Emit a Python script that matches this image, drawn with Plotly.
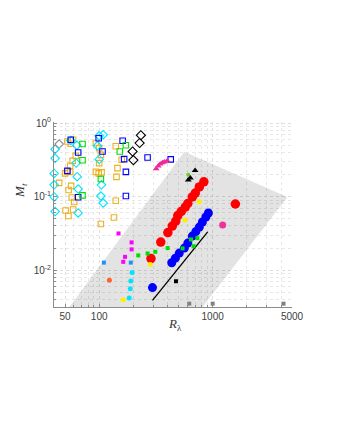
import plotly.graph_objects as go

# ---- data (R_lambda, M_t) ----
red_R = [286, 349, 403, 441, 473, 493, 529, 574, 604, 662, 703, 763, 836, 1585]
red_M = [0.0144, 0.0241, 0.0325, 0.0398, 0.0466, 0.0554, 0.0629, 0.0723, 0.0807, 0.099, 0.112, 0.1355, 0.159, 0.0795]

blue_R = [295, 436, 469, 508, 563, 604, 662, 711, 763, 812, 871, 917]
blue_M = [0.0058, 0.01265, 0.0146, 0.0171, 0.0200, 0.0234, 0.0291, 0.0335, 0.0386, 0.0452, 0.0529, 0.0600]

yellow_R = [763, 570, 282, 163]
yellow_M = [0.0855, 0.0481, 0.01197, 0.00398]

cyan_R = [195, 190, 188, 184]
cyan_M = [0.0093, 0.00714, 0.00562, 0.00419]

orange_dot_R = [123]
orange_dot_M = [0.0073]

pink_dot_R = [1225]
pink_dot_M = [0.0411]

magenta_sq_R = [148, 193, 193, 169, 163]
magenta_sq_M = [0.0316, 0.0239, 0.0192, 0.0152, 0.0130]

azure_sq_R = [110, 190]
azure_sq_M = [0.0127, 0.0127]

green_sq_R = [221, 267, 312, 401, 543, 645, 733, 678]
green_sq_M = [0.0159, 0.0169, 0.0178, 0.0200, 0.0198, 0.0262, 0.0273, 0.0212]

green_dot_R = [610]
green_dot_M = [0.198]

black_tri_R = [700, 610, 636]
black_tri_M = [0.226, 0.169, 0.180]

black_sq_R = [475]
black_sq_M = [0.00708]

gray_sq_R = [622, 1000, 4210]
gray_sq_M = [0.00351, 0.00351, 0.00351]

gray_open_sq_R = [255]
gray_open_sq_M = [1.05]

red_open_sq_R = [171, 186]
red_open_sq_M = [1.05, 1.05]

black_dia_R = [233, 227, 197, 200]
black_dia_M = [0.684, 0.536, 0.411, 0.314]

gray_dia_R = [44.4]
gray_dia_M = [0.519]

pink_tri_R = [318, 332, 345, 360, 375, 398]
pink_tri_M = [0.239, 0.262, 0.279, 0.288, 0.297, 0.307]

blue_open_R = [56.2, 65.3, 52.5, 65.3, 99, 107, 161, 166, 172, 172, 267, 427]
blue_open_M = [0.594, 0.398, 0.224, 0.098, 0.622, 0.411, 0.575, 0.324, 0.217, 0.102, 0.340, 0.321]

green_open_R = [71.3, 71.3, 71.3, 103.5, 152, 172]
green_open_M = [0.519, 0.312, 0.104, 0.174, 0.411, 0.500]

cyan_dia_R = [40.9, 40.9, 40.1, 40.1, 40.1, 40.9,
              56.2, 63.5, 62.7, 64.0, 65.3, 65.3,
              100, 108.5, 96.6, 100, 104.8, 103.5, 108.5]
cyan_dia_M = [0.441, 0.332, 0.207, 0.145, 0.0991, 0.0628,
              0.580, 0.500, 0.286, 0.187, 0.127, 0.060,
              0.673, 0.695, 0.492, 0.321, 0.145, 0.102, 0.082]

orange_open_R = [52.5, 59.0, 56.2, 62.1, 58.4, 55.5, 52.2, 55.5, 50.1, 44.4, 56.6, 53.8,
                 57.4, 60.2, 50.6, 59.0, 53.6,
                 93.5, 100, 103.5, 100, 93.5, 99, 105, 103.5,
                 140, 158, 145, 142, 140, 135]
orange_open_M = [0.562, 0.594, 0.524, 0.359, 0.307, 0.262, 0.221, 0.217, 0.207, 0.154, 0.140, 0.123,
                 0.0975, 0.0847, 0.0648, 0.0669, 0.0546,
                 0.536, 0.457, 0.370, 0.286, 0.217, 0.207, 0.214, 0.0425,
                 0.484, 0.317, 0.244, 0.186, 0.0881, 0.052]

# shaded band and reference line
band_R = [54.4, 562, 4560, 811, 54.4]
band_M = [0.00313, 0.407, 0.099, 0.00313, 0.00313]
line_R = [295, 904]
line_M = [0.0039, 0.0333]

# axis ticks
x_major = [50, 100, 1000, 5000]
x_minor = [40, 60, 70, 80, 90, 200, 300, 400, 500, 600, 700, 800, 900,
           2000, 3000, 4000]
y_major = [0.01, 0.1, 1]
y_major_text = ["10<sup>-2</sup>", "10<sup>-1</sup>", "10<sup>0</sup>"]
y_minor = [0.004, 0.005, 0.006, 0.007, 0.008, 0.009, 0.02, 0.03, 0.04, 0.05,
           0.06, 0.07, 0.08, 0.09, 0.2, 0.3, 0.4, 0.5, 0.6, 0.7, 0.8, 0.9]

fig = go.Figure()

fig.add_trace(go.Scatter(x=band_R, y=band_M, mode="lines", fill="toself",
                         fillcolor="rgba(0,0,0,0.11)", line=dict(width=0),
                         hoverinfo="skip"))
fig.add_trace(go.Scatter(x=line_R, y=line_M, mode="lines",
                         line=dict(color="black", width=1.3)))


def pts(x, y, symbol, color, size, lw=1.1):
    fig.add_trace(go.Scatter(
        x=x, y=y, mode="markers", cliponaxis=False,
        marker=dict(symbol=symbol, color=color, size=size,
                    line=dict(width=lw if symbol.endswith("open") else 0, color=color)),
    ))


pts(orange_open_R, orange_open_M, "square-open", "#EDB120", 5.5)
pts(cyan_dia_R, cyan_dia_M, "diamond-open", "#00E5FF", 6.5)
pts(blue_open_R, blue_open_M, "square-open", "#0000FF", 5.5)
pts(green_open_R, green_open_M, "square-open", "#00DD00", 5.5)
pts(black_dia_R, black_dia_M, "diamond-open", "black", 7)
pts(gray_dia_R, gray_dia_M, "diamond-open", "#909090", 6.5)
pts(red_open_sq_R, red_open_sq_M, "square-open", "#FF0000", 4.5, 2)
pts(gray_open_sq_R, gray_open_sq_M, "square-open", "#909090", 5, 1.6)
pts(pink_tri_R, pink_tri_M, "triangle-up", "#EE2A9B", 6)
pts(red_R, red_M, "circle", "#FF0000", 9.5)
pts(blue_R, blue_M, "circle", "#0000FF", 9)
pts(yellow_R, yellow_M, "circle", "#FFF000", 5)
pts(cyan_R, cyan_M, "circle", "#00E5FF", 5)
pts(orange_dot_R, orange_dot_M, "circle", "#FF6030", 5)
pts(pink_dot_R, pink_dot_M, "circle", "#EE3399", 7)
pts(magenta_sq_R, magenta_sq_M, "square", "#FF00FF", 4)
pts(azure_sq_R, azure_sq_M, "square", "#1E90FF", 4)
pts(green_sq_R, green_sq_M, "square", "#00DD00", 4)
pts(green_dot_R, green_dot_M, "circle", "#66CC33", 4)
pts(black_tri_R, black_tri_M, "triangle-up", "black", 6)
pts(black_sq_R, black_sq_M, "square", "black", 4)
pts(gray_sq_R, gray_sq_M, "square", "#808080", 4)

axis_common = dict(
    showgrid=True, gridcolor="#dedede", griddash="dot", gridwidth=1,
    showline=True, linecolor="#8c8c8c", linewidth=1,
    ticks="inside", ticklen=3, tickcolor="#8c8c8c",
    tickfont=dict(family="Liberation Sans", size=10, color="#404040"),
    zeroline=False,
)

fig.update_layout(
    width=339, height=439,
    margin=dict(l=46, r=55, t=114, b=140),
    paper_bgcolor="white", plot_bgcolor="white",
    showlegend=False,
    xaxis=dict(type="log", range=[1.602, 3.699], tickmode="array", tickvals=x_major,
               ticktext=[str(v) for v in x_major],
               minor=dict(tickmode="array", tickvals=x_minor, showgrid=True,
                          gridcolor="#e8e8e8", griddash="dot", ticks="inside",
                          ticklen=2, tickcolor="#8c8c8c"),
               **axis_common),
    yaxis=dict(type="log", range=[-2.5, 0.015], tickmode="array", tickvals=y_major,
               ticktext=y_major_text,
               minor=dict(tickmode="array", tickvals=y_minor, showgrid=True,
                          gridcolor="#e8e8e8", griddash="dot", ticks="inside",
                          ticklen=2, tickcolor="#8c8c8c"),
               **axis_common),
    annotations=[
        dict(text="<i>M</i><sub><i>t</i></sub>", xref="paper", yref="paper",
             x=-0.185, y=0.63, showarrow=False, textangle=-90,
             font=dict(family="Liberation Serif", size=13, color="#333333")),
        dict(text="<i>R</i><sub>λ</sub>", xref="paper", yref="paper",
             x=0.51, y=-0.15, showarrow=False,
             font=dict(family="Liberation Serif", size=13, color="#333333")),
    ],
)

fig.write_html("out.html")
